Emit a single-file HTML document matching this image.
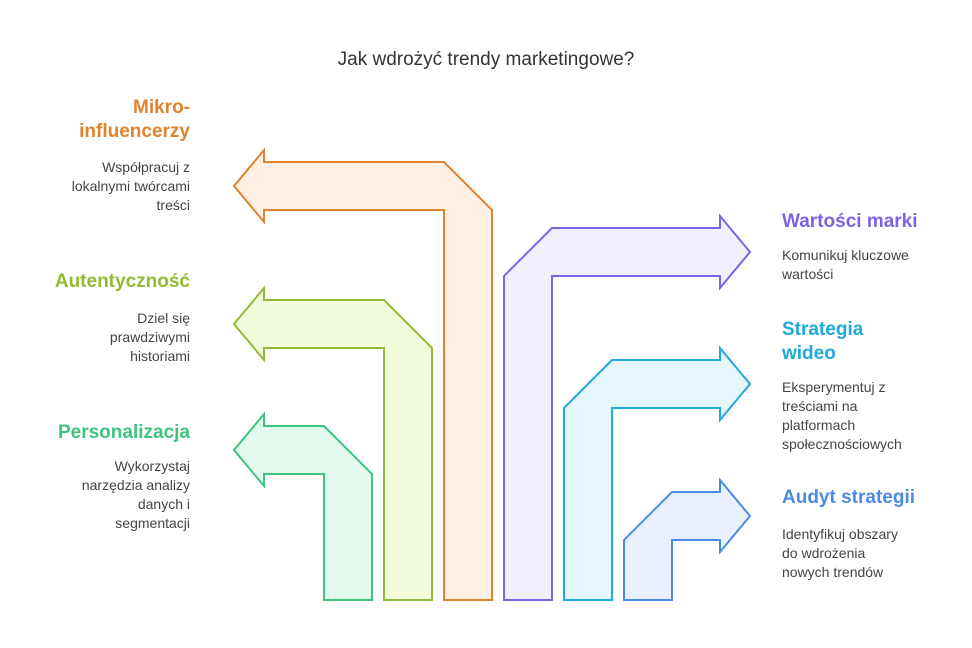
<!DOCTYPE html>
<html><head><meta charset="utf-8"><style>
body{margin:0;width:972px;height:648px;background:#fff;font-family:"Liberation Sans",sans-serif;position:relative;overflow:hidden}
.t{position:absolute;font-size:19px;font-weight:bold;line-height:24px}
.d{position:absolute;font-size:14px;color:#444;line-height:19px}
.r{text-align:right}
</style></head><body>
<div style="position:absolute;left:0;width:972px;top:49px;text-align:center;font-size:19px;color:#333">Jak wdrożyć trendy marketingowe?</div>
<svg width="972" height="648" style="position:absolute;left:0;top:0" stroke-width="2" stroke-linejoin="miter">
<polygon points="234,186 264,150 264,162 444,162 492,210 492,600 444,600 444,210 264,210 264,222" fill="#fff0e3" stroke="#e0822e"/>
<polygon points="234,324 264,288 264,300 384,300 432,348 432,600 384,600 384,348 264,348 264,360" fill="#f2fbdc" stroke="#92bb35"/>
<polygon points="234,450 264,414 264,426 324,426 372,474 372,600 324,600 324,474 264,474 264,486" fill="#e2faee" stroke="#3fc47e"/>
<polygon points="750,252 720,216 720,228 552,228 504,276 504,600 552,600 552,276 720,276 720,288" fill="#f2effd" stroke="#7e62e6"/>
<polygon points="750,384 720,348 720,360 612,360 564,408 564,600 612,600 612,408 720,408 720,420" fill="#e5f7fc" stroke="#1eabd9"/>
<polygon points="750,516 720,480 720,492 672,492 624,540 624,600 672,600 672,540 720,540 720,552" fill="#e8f0fd" stroke="#4a8be6"/>
</svg>
<div class="t r" style="right:782px;top:96px;color:#e0822e">Mikro-<br>influencerzy</div>
<div class="d r" style="right:782px;top:158px">Współpracuj z<br>lokalnymi twórcami<br>treści</div>
<div class="t r" style="right:782px;top:270px;color:#92bb35">Autentyczność</div>
<div class="d r" style="right:782px;top:309px">Dziel się<br>prawdziwymi<br>historiami</div>
<div class="t r" style="right:782px;top:421px;color:#3fc47e">Personalizacja</div>
<div class="d r" style="right:782px;top:457px">Wykorzystaj<br>narzędzia analizy<br>danych i<br>segmentacji</div>
<div class="t" style="left:782px;top:210px;color:#7e62e6">Wartości marki</div>
<div class="d" style="left:782px;top:246px">Komunikuj kluczowe<br>wartości</div>
<div class="t" style="left:782px;top:318px;color:#1eabd9">Strategia<br>wideo</div>
<div class="d" style="left:782px;top:378px">Eksperymentuj z<br>treściami na<br>platformach<br>społecznościowych</div>
<div class="t" style="left:782px;top:486px;color:#4a8be6">Audyt strategii</div>
<div class="d" style="left:782px;top:525px">Identyfikuj obszary<br>do wdrożenia<br>nowych trendów</div>
</body></html>
